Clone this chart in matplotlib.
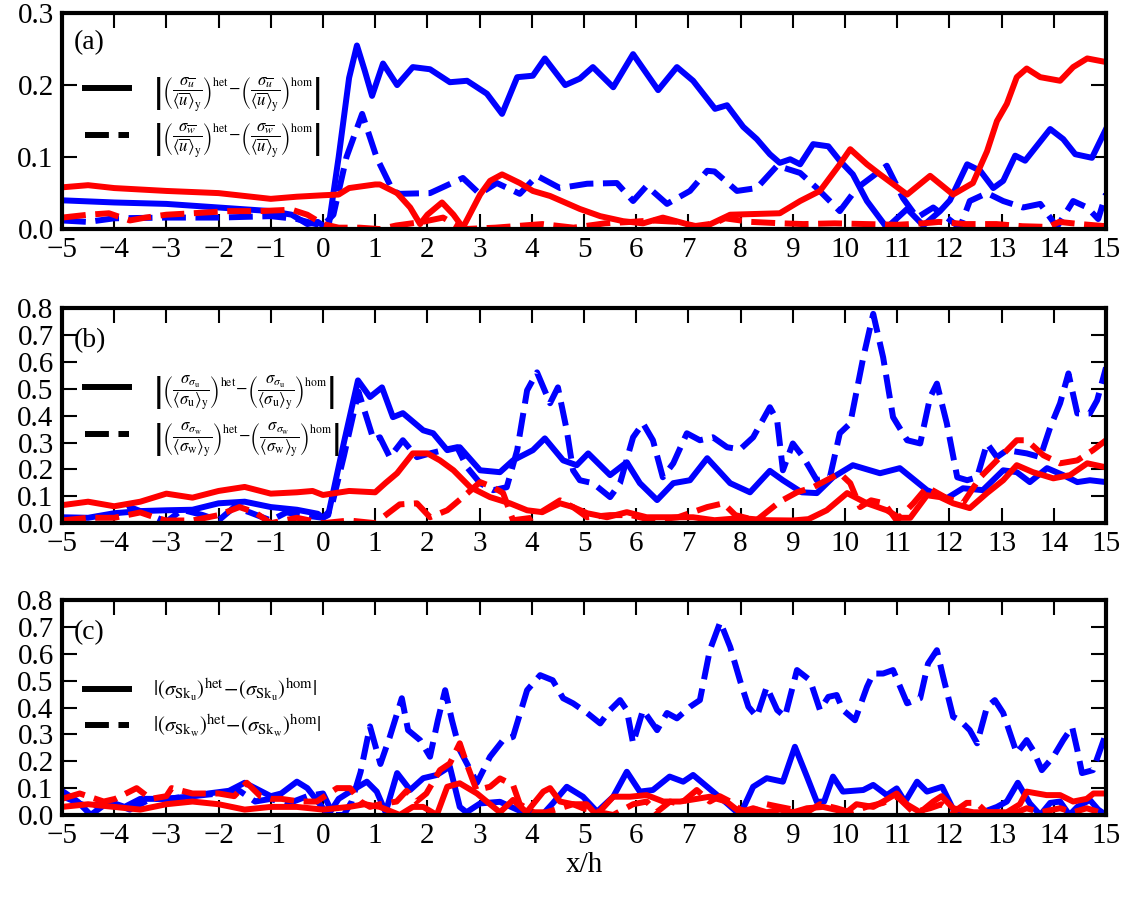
import matplotlib
matplotlib.use("Agg")
import matplotlib.pyplot as plt
import numpy as np

plt.rcParams['font.family'] = ['Liberation Serif', 'DejaVu Serif']
plt.rcParams['mathtext.fontset'] = 'stix'

# ---------------- panel (a): mean-normalised std of u and w ----------------
a_bs_x = [-5, -4, -3, -2, -1, -0.6, -0.3, -0.1, 0.1, 0.3, 0.5, 0.65, 0.8, 0.94, 1.15, 1.42, 1.72, 2.05, 2.43, 2.76,
          3.14, 3.43, 3.72, 4.02, 4.25, 4.64, 4.92, 5.17, 5.56, 5.94, 6.42, 6.78, 7.09, 7.51, 7.74, 8.05, 8.31, 8.56, 8.75, 8.95,
          9.14, 9.39, 9.68, 9.9, 10.15, 10.42, 10.8, 11.19, 11.5, 11.82, 12.01, 12.34, 12.59, 12.84, 13.03, 13.26, 13.45, 13.93, 14.18, 14.41,
          14.73, 15.0]
a_bs_y = [0.040, 0.037, 0.035, 0.030, 0.025, 0.020, 0.007, 0.010, 0.0, 0.10, 0.21, 0.255, 0.22, 0.185, 0.23, 0.20, 0.225, 0.222, 0.204, 0.206,
          0.188, 0.16, 0.211, 0.213, 0.237, 0.20, 0.209, 0.225, 0.197, 0.243, 0.193, 0.225, 0.206, 0.167, 0.172, 0.142, 0.125, 0.104, 0.092, 0.097,
          0.09, 0.118, 0.115, 0.095, 0.076, 0.039, 0.002, 0.028, 0.005, 0.025, 0.04, 0.09, 0.081, 0.057, 0.067, 0.102, 0.095, 0.139, 0.125, 0.104,
          0.099, 0.139]

a_bd_x = [-5, -4.5, -4, -3, -2, -1, -0.5, -0.2, 0.0, 0.2, 0.45, 0.75, 1.03, 1.34, 1.47, 2.05, 2.68, 3.0, 3.33, 3.77,
          4.1, 4.54, 5.06, 5.63, 5.94, 6.2, 6.59, 7.03, 7.36, 7.5, 7.93, 8.31, 8.7, 9.14, 9.46, 9.9, 10.23, 10.8, 11.11, 11.38,
          11.69, 11.95, 12.2, 12.39, 12.72, 13.03, 13.41, 13.74, 14.06, 14.37, 14.64, 14.85, 15.0]
a_bd_y = [0.012, 0.010, 0.015, 0.016, 0.016, 0.018, 0.014, 0.008, 0.005, 0.02, 0.10, 0.16, 0.099, 0.053, 0.049, 0.05, 0.071, 0.049, 0.064, 0.049,
          0.074, 0.057, 0.063, 0.064, 0.039, 0.06, 0.035, 0.053, 0.081, 0.08, 0.053, 0.057, 0.088, 0.078, 0.057, 0.025, 0.057, 0.088, 0.043, 0.016,
          0.03, 0.016, 0.002, 0.039, 0.05, 0.039, 0.03, 0.035, 0.003, 0.039, 0.03, 0.014, 0.049]

a_rs_x = [-5, -4.5, -4, -3, -2, -1.5, -1, -0.5, 0, 0.3, 0.5, 1.0, 1.09, 1.42, 1.67, 1.86, 2.0, 2.28, 2.5, 2.68,
          3.01, 3.2, 3.43, 3.77, 4.02, 4.35, 4.92, 5.31, 5.75, 6.13, 6.51, 6.97, 7.28, 7.8, 8.75, 9.14, 9.52, 9.9, 10.1, 10.42,
          10.67, 11.19, 11.63, 12.07, 12.45, 12.72, 12.91, 13.1, 13.29, 13.48, 13.74, 14.12, 14.37, 14.64, 15.0]
a_rs_y = [0.058, 0.061, 0.057, 0.053, 0.050, 0.046, 0.042, 0.045, 0.047, 0.048, 0.057, 0.062, 0.062, 0.05, 0.03, 0.007, 0.02, 0.037, 0.02, 0.002,
          0.048, 0.067, 0.076, 0.064, 0.053, 0.046, 0.028, 0.018, 0.011, 0.008, 0.016, 0.007, 0.002, 0.02, 0.022, 0.039, 0.053, 0.09, 0.111, 0.09,
          0.076, 0.048, 0.074, 0.048, 0.064, 0.108, 0.15, 0.174, 0.211, 0.223, 0.211, 0.206, 0.225, 0.237, 0.232]

a_rd_x = [-5, -4.5, -4.1, -3.7, -3.4, -3.0, -2.5, -1.8, -1.2, -0.6, -0.3, 0.0, 0.3, 0.7, 1.1, 1.4, 1.9, 2.3, 2.68, 3.3,
          4.2, 4.8, 5.4, 5.9, 6.3, 6.8, 7.1, 7.5, 7.7, 8.2, 8.8, 9.2, 9.8, 10.4, 11.0, 11.5, 11.8, 12.3, 12.9, 13.4,
          13.9, 14.1, 14.5, 15.0]
a_rd_y = [0.016, 0.02, 0.022, 0.012, 0.016, 0.02, 0.022, 0.025, 0.025, 0.027, 0.02, 0.007, 0.002, 0.002, 0.0, 0.005, 0.01, 0.016, 0.0, 0.002,
          0.007, 0.002, 0.008, 0.01, 0.012, 0.01, 0.004, 0.008, 0.015, 0.01, 0.008, 0.007, 0.008, 0.007, 0.006, 0.008, 0.01, 0.007, 0.007, 0.004,
          0.003, 0.01, 0.007, 0.004]

# ---------------- panel (b): std of the std ----------------
b_bs_x = [-5, -4.5, -4, -3.5, -3, -2.5, -2, -1.5, -1, -0.5, -0.1, 0.0, 0.1, 0.4, 0.67, 0.9, 1.13, 1.34, 1.53, 1.92,
          2.11, 2.38, 2.62, 3.01, 3.39, 3.64, 4.02, 4.25, 4.6, 4.86, 5.08, 5.5, 5.82, 6.07, 6.4, 6.71, 7.03, 7.36, 7.8, 8.18,
          8.56, 8.81, 9.17, 9.46, 9.77, 10.15, 10.67, 11.05, 11.57, 11.95, 12.26, 12.64, 13.03, 13.29, 13.54, 13.87, 14.18, 14.45, 14.69, 15.0]
b_bs_y = [0.022, 0.02, 0.037, 0.045, 0.048, 0.05, 0.074, 0.08, 0.06, 0.05, 0.035, 0.02, 0.03, 0.3, 0.532, 0.47, 0.506, 0.395, 0.41, 0.346,
          0.335, 0.272, 0.283, 0.197, 0.19, 0.234, 0.272, 0.316, 0.234, 0.216, 0.26, 0.179, 0.227, 0.149, 0.086, 0.149, 0.16, 0.242, 0.149, 0.115,
          0.195, 0.16, 0.115, 0.112, 0.171, 0.216, 0.186, 0.205, 0.123, 0.093, 0.13, 0.123, 0.197, 0.19, 0.153, 0.205, 0.179, 0.153, 0.16, 0.153]

b_bd_x = [-5, -4.5, -4, -3.7, -3.3, -3.0, -2.7, -2.3, -2.0, -1.7, -1.4, -1.0, -0.7, -0.4, 0.0, 0.15, 0.4, 0.68, 0.97, 1.09,
          1.28, 1.53, 1.8, 2.05, 2.3, 2.57, 2.76, 3.01, 3.26, 3.52, 3.72, 3.91, 4.1, 4.35, 4.5, 4.67, 4.79, 4.92, 5.17, 5.5,
          5.69, 5.94, 6.13, 6.32, 6.51, 6.71, 6.97, 7.22, 7.47, 7.74, 7.99, 8.24, 8.56, 8.7, 8.81, 9.0, 9.2, 9.46, 9.71, 9.9,
          10.1, 10.35, 10.54, 10.73, 10.92, 11.19, 11.44, 11.63, 11.76, 11.95, 12.15, 12.34, 12.53, 12.72, 12.91, 13.1, 13.48, 13.74, 13.93, 14.12,
          14.28, 14.45, 14.69, 14.83, 15.0]
b_bd_y = [0.01, 0.02, 0.03, 0.06, 0.03, 0.005, 0.05, 0.03, 0.01, 0.06, 0.04, 0.01, 0.04, 0.03, 0.02, 0.05, 0.25, 0.49, 0.31, 0.32,
          0.246, 0.309, 0.246, 0.26, 0.272, 0.283, 0.208, 0.149, 0.123, 0.134, 0.272, 0.495, 0.562, 0.447, 0.506, 0.346, 0.197, 0.16, 0.149, 0.097,
          0.149, 0.32, 0.372, 0.309, 0.171, 0.223, 0.335, 0.309, 0.32, 0.283, 0.275, 0.32, 0.432, 0.383, 0.197, 0.297, 0.246, 0.16, 0.171, 0.335,
          0.372, 0.618, 0.78, 0.618, 0.395, 0.309, 0.297, 0.469, 0.52, 0.372, 0.171, 0.16, 0.171, 0.297, 0.246, 0.272, 0.26, 0.246, 0.357, 0.447,
          0.558, 0.409, 0.409, 0.458, 0.58]

b_rs_x = [-5, -4.5, -4, -3.5, -3, -2.5, -2, -1.5, -1, -0.5, -0.2, 0.0, 0.5, 1.0, 1.2, 1.42, 1.72, 2.0, 2.24, 2.5,
          2.82, 3.2, 3.58, 3.91, 4.2, 4.54, 4.79, 5.06, 5.44, 5.82, 6.2, 6.64, 7.09, 7.5, 8.0, 8.5, 9.0, 9.3, 9.65, 10.04,
          10.42, 10.8, 11.05, 11.25, 11.57, 11.82, 12.07, 12.39, 12.72, 13.03, 13.29, 13.6, 13.99, 14.31, 14.64, 15.0]
b_rs_y = [0.067, 0.08, 0.063, 0.08, 0.11, 0.095, 0.12, 0.135, 0.11, 0.115, 0.12, 0.105, 0.12, 0.115, 0.15, 0.186, 0.26, 0.26, 0.234, 0.197,
          0.134, 0.097, 0.074, 0.048, 0.041, 0.074, 0.06, 0.037, 0.022, 0.041, 0.022, 0.022, 0.022, 0.011, 0.019, 0.011, 0.01, 0.015, 0.048, 0.112,
          0.074, 0.048, 0.02, 0.02, 0.104, 0.097, 0.074, 0.056, 0.112, 0.16, 0.216, 0.19, 0.167, 0.179, 0.223, 0.208]

b_rd_x = [-5, -4.5, -4, -3.5, -3.2, -3.0, -2.5, -2.0, -1.6, -1.3, -1.0, -0.5, 0.0, 0.5, 1.0, 1.2, 1.47, 1.8, 2.05, 2.38,
          2.68, 3.01, 3.26, 3.45, 3.64, 4.0, 4.54, 4.79, 5.06, 5.5, 5.9, 6.3, 6.8, 7.36, 7.67, 7.9, 8.3, 8.75, 9.08, 9.39,
          9.9, 10.1, 10.29, 10.5, 10.75, 10.99, 11.31, 11.57, 11.95, 12.26, 12.59, 12.91, 13.29, 13.48, 13.8, 14.12, 14.45, 14.75, 15.0]
b_rd_y = [0.01, 0.02, 0.02, 0.04, 0.02, 0.01, 0.01, 0.03, 0.06, 0.04, 0.0, 0.02, 0.0, 0.01, 0.0, 0.03, 0.07, 0.074, 0.022, 0.048,
          0.097, 0.153, 0.134, 0.112, 0.011, 0.02, 0.085, 0.06, 0.022, 0.03, 0.03, 0.011, 0.022, 0.06, 0.074, 0.03, 0.01, 0.08, 0.115, 0.134,
          0.186, 0.149, 0.06, 0.085, 0.074, 0.01, 0.074, 0.134, 0.093, 0.074, 0.171, 0.234, 0.309, 0.309, 0.253, 0.223, 0.234, 0.272, 0.309]

# ---------------- panel (c): std of skewness ----------------
c_bs_x = [-5, -4.7, -4.45, -4.1, -3.8, -3.5, -3.0, -2.5, -2.2, -1.8, -1.5, -1.3, -1.0, -0.8, -0.5, -0.3, -0.1, 0.1, 0.3, 0.52,
          0.84, 1.03, 1.2, 1.42, 1.67, 1.92, 2.18, 2.43, 2.62, 2.75, 3.01, 3.39, 3.83, 4.2, 4.4, 4.67, 4.98, 5.25, 5.56, 5.82,
          6.07, 6.32, 6.64, 6.9, 7.09, 7.47, 7.74, 7.99, 8.24, 8.5, 8.81, 9.04, 9.27, 9.46, 9.6, 9.77, 9.96, 10.35, 10.54, 10.8,
          10.99, 11.15, 11.38, 11.57, 11.86, 12.1, 12.5, 12.91, 13.1, 13.31, 13.54, 13.74, 13.93, 14.12, 14.3, 14.45, 14.69, 14.85, 15.0]
c_bs_y = [0.09, 0.05, 0.0, 0.05, 0.03, 0.06, 0.06, 0.07, 0.08, 0.09, 0.12, 0.1, 0.07, 0.08, 0.124, 0.1, 0.05, 0.0, 0.06, 0.087,
          0.124, 0.087, 0.01, 0.156, 0.093, 0.137, 0.149, 0.18, 0.03, 0.01, 0.043, 0.049, 0.01, 0.0, 0.043, 0.105, 0.068, 0.012, 0.068, 0.161,
          0.087, 0.093, 0.143, 0.124, 0.149, 0.087, 0.043, 0.0, 0.105, 0.137, 0.124, 0.254, 0.143, 0.049, 0.05, 0.143, 0.087, 0.093, 0.112, 0.074,
          0.099, 0.049, 0.124, 0.087, 0.105, 0.01, 0.0, 0.03, 0.05, 0.12, 0.043, 0.0, 0.045, 0.05, 0.0, 0.03, 0.056, 0.02, 0.0]

c_bd_x = [-5, -4.5, -4.1, -3.7, -3.3, -3.0, -2.5, -2.0, -1.6, -1.3, -1.0, -0.7, -0.3, 0.0, 0.2, 0.4, 0.55, 0.72, 0.9, 1.1,
          1.28, 1.51, 1.63, 1.86, 2.05, 2.2, 2.34, 2.47, 2.62, 2.95, 3.2, 3.45, 3.64, 3.91, 4.16, 4.4, 4.6, 4.79, 5.06, 5.31,
          5.5, 5.69, 5.82, 5.94, 6.13, 6.4, 6.59, 6.78, 7.03, 7.22, 7.41, 7.61, 7.8, 7.99, 8.15, 8.31, 8.5, 8.7, 8.85, 9.08,
          9.33, 9.52, 9.68, 9.84, 9.96, 10.19, 10.42, 10.54, 10.73, 10.92, 11.19, 11.44, 11.59, 11.76, 11.88, 12.07, 12.2, 12.39, 12.53, 12.72,
          12.87, 13.03, 13.29, 13.48, 13.6, 13.77, 13.99, 14.18, 14.35, 14.45, 14.54, 14.75, 15.0]
c_bd_y = [0.07, 0.03, 0.05, 0.02, 0.06, 0.06, 0.07, 0.08, 0.09, 0.05, 0.06, 0.04, 0.07, 0.08, 0.0, 0.0, 0.05, 0.16, 0.33, 0.19,
          0.291, 0.435, 0.316, 0.279, 0.217, 0.353, 0.465, 0.353, 0.242, 0.12, 0.217, 0.279, 0.291, 0.465, 0.521, 0.502, 0.435, 0.416, 0.38, 0.341,
          0.391, 0.428, 0.391, 0.267, 0.391, 0.316, 0.38, 0.36, 0.403, 0.428, 0.614, 0.719, 0.626, 0.5, 0.403, 0.366, 0.477, 0.391, 0.366, 0.54,
          0.502, 0.391, 0.44, 0.447, 0.391, 0.353, 0.477, 0.527, 0.527, 0.54, 0.416, 0.435, 0.564, 0.614, 0.515, 0.366, 0.353, 0.316, 0.267, 0.403,
          0.428, 0.38, 0.23, 0.279, 0.242, 0.167, 0.217, 0.279, 0.328, 0.242, 0.156, 0.167, 0.304]

c_rs_x = [-5, -4.5, -4.0, -3.5, -3.0, -2.5, -2.0, -1.5, -1.0, -0.5, 0.0, 0.5, 0.8, 1.09, 1.47, 1.72, 1.92, 2.18, 2.38, 2.62,
          2.95, 3.2, 3.39, 3.64, 3.9, 4.22, 4.35, 4.54, 4.79, 5.05, 5.24, 5.56, 5.88, 6.2, 6.52, 6.84, 7.16, 7.41, 7.73, 7.99,
          8.24, 8.5, 8.75, 9.01, 9.27, 9.58, 10.03, 10.22, 10.54, 10.73, 10.99, 11.18, 11.44, 11.69, 11.85, 12.07, 12.46, 12.84, 13.1, 13.35,
          13.48, 13.86, 14.12, 14.37, 14.63, 14.76, 15.0]
c_rs_y = [0.03, 0.04, 0.03, 0.02, 0.04, 0.05, 0.04, 0.02, 0.03, 0.03, 0.02, 0.03, 0.04, 0.03, 0.0, 0.03, 0.03, 0.0, 0.105, 0.118,
          0.08, 0.04, 0.01, 0.056, 0.01, 0.087, 0.1, 0.05, 0.04, 0.04, 0.0, 0.068, 0.068, 0.074, 0.05, 0.05, 0.06, 0.068, 0.05, 0.01,
          0.025, 0.01, 0.02, 0.01, 0.025, 0.03, 0.01, 0.04, 0.03, 0.05, 0.08, 0.04, 0.01, 0.05, 0.07, 0.025, 0.01, 0.01, 0.01, 0.04,
          0.087, 0.074, 0.074, 0.05, 0.06, 0.08, 0.08]

c_rd_x = [-5, -4.66, -4.2, -3.98, -3.57, -3.3, -3.0, -2.9, -2.5, -2.0, -1.7, -1.46, -1.2, -1.0, -0.8, -0.44, -0.12, 0.27, 0.52, 0.72,
          0.9, 1.09, 1.41, 1.6, 1.79, 1.98, 2.24, 2.43, 2.62, 2.75, 2.94, 3.2, 3.39, 3.64, 3.77, 4.03, 4.28, 4.54, 4.79, 4.98,
          5.3, 5.56, 5.94, 6.2, 6.39, 6.65, 6.84, 7.16, 7.41, 7.6, 7.8, 7.99, 8.24, 8.5, 8.75, 9.01, 9.27, 9.52, 9.84, 10.1,
          10.41, 10.73, 10.99, 11.31, 11.63, 11.85, 12.07, 12.33, 12.52, 12.71, 13.1, 13.29, 13.48, 13.74, 14.12, 14.37, 14.63, 14.88, 15.0]
c_rd_y = [0.06, 0.08, 0.05, 0.06, 0.1, 0.06, 0.07, 0.1, 0.08, 0.08, 0.07, 0.12, 0.07, 0.06, 0.06, 0.05, 0.05, 0.1, 0.1, 0.05,
          0.03, 0.04, 0.05, 0.09, 0.05, 0.08, 0.167, 0.192, 0.267, 0.192, 0.093, 0.105, 0.136, 0.112, 0.04, 0.01, 0.01, 0.025, 0.04, 0.025,
          0.01, 0.0, 0.04, 0.05, 0.01, 0.05, 0.04, 0.093, 0.05, 0.07, 0.05, 0.02, 0.01, 0.04, 0.03, 0.02, 0.01, 0.04, 0.025, 0.01,
          0.03, 0.045, 0.07, 0.01, 0.025, 0.04, 0.01, 0.045, 0.045, 0.01, 0.01, 0.01, 0.025, 0.01, 0.025, 0.01, 0.025, 0.01, 0.005]

x_ticks = list(range(-5, 16))
a_yticks = [0.0, 0.1, 0.2, 0.3]
bc_yticks = [0.0, 0.1, 0.2, 0.3, 0.4, 0.5, 0.6, 0.7, 0.8]

panel_tags = ['(a)', '(b)', '(c)']
legend_labels = [
    [r'$\left|\left(\dfrac{\sigma_{\overline{u}}}{\langle\overline{u}\rangle_{\mathrm{y}}}\right)^{\mathrm{het}}'
     r'\!-\!\left(\dfrac{\sigma_{\overline{u}}}{\langle\overline{u}\rangle_{\mathrm{y}}}\right)^{\mathrm{hom}}\right|$',
     r'$\left|\left(\dfrac{\sigma_{\overline{w}}}{\langle\overline{u}\rangle_{\mathrm{y}}}\right)^{\mathrm{het}}'
     r'\!-\!\left(\dfrac{\sigma_{\overline{w}}}{\langle\overline{u}\rangle_{\mathrm{y}}}\right)^{\mathrm{hom}}\right|$'],
    [r'$\left|\left(\dfrac{\sigma_{\sigma_{\mathrm{u}}}}{\langle\sigma_{\mathrm{u}}\rangle_{\mathrm{y}}}\right)^{\mathrm{het}}'
     r'\!-\!\left(\dfrac{\sigma_{\sigma_{\mathrm{u}}}}{\langle\sigma_{\mathrm{u}}\rangle_{\mathrm{y}}}\right)^{\mathrm{hom}}\right|$',
     r'$\left|\left(\dfrac{\sigma_{\sigma_{\mathrm{w}}}}{\langle\sigma_{\mathrm{w}}\rangle_{\mathrm{y}}}\right)^{\mathrm{het}}'
     r'\!-\!\left(\dfrac{\sigma_{\sigma_{\mathrm{w}}}}{\langle\sigma_{\mathrm{w}}\rangle_{\mathrm{y}}}\right)^{\mathrm{hom}}\right|$'],
    [r'$|(\sigma_{\mathrm{Sk_u}})^{\mathrm{het}}\!-\!(\sigma_{\mathrm{Sk_u}})^{\mathrm{hom}}|$',
     r'$|(\sigma_{\mathrm{Sk_w}})^{\mathrm{het}}\!-\!(\sigma_{\mathrm{Sk_w}})^{\mathrm{hom}}|$'],
]
legend_sizes = [12, 12, 15]

series = [
    (a_bs_x, a_bs_y, a_bd_x, a_bd_y, a_rs_x, a_rs_y, a_rd_x, a_rd_y),
    (b_bs_x, b_bs_y, b_bd_x, b_bd_y, b_rs_x, b_rs_y, b_rd_x, b_rd_y),
    (c_bs_x, c_bs_y, c_bd_x, c_bd_y, c_rs_x, c_rs_y, c_rd_x, c_rd_y),
]

fig = plt.figure(figsize=(11.33, 9.02), dpi=100)
left, width = 0.0547, 0.9215
boxes = [(left, 0.746, width, 0.2395), (left, 0.420, width, 0.238), (left, 0.0965, width, 0.238)]
ylims = [0.3, 0.8, 0.8]
leg_y = [0.515, 0.50, 0.50]
leg_space = [0.5, 0.5, 0.45]

LW = 4.3
DASH = (4, 1.6)

for i, ax_box in enumerate(boxes):
    ax = fig.add_axes(ax_box)
    bsx, bsy, bdx, bdy, rsx, rsy, rdx, rdy = series[i]
    ax.plot(bsx, bsy, color='#0000ff', lw=LW, solid_joinstyle='round')
    ax.plot(bdx, bdy, color='#0000ff', lw=LW, dashes=DASH)
    ax.plot(rsx, rsy, color='#ff0000', lw=LW, solid_joinstyle='round')
    ax.plot(rdx, rdy, color='#ff0000', lw=LW, dashes=DASH)

    ax.set_xlim(-5, 15)
    ax.set_ylim(0, ylims[i])
    ax.set_xticks(x_ticks)
    ax.set_yticks(a_yticks if i == 0 else bc_yticks)
    ax.yaxis.set_major_formatter(matplotlib.ticker.FormatStrFormatter('%.1f'))
    ax.tick_params(direction='in', top=True, right=True, length=11, width=1.5,
                   labelsize=21, pad=6)
    for sp in ax.spines.values():
        sp.set_linewidth(3.0)

    ax.text(0.011, 0.865 if i == 0 else 0.851, panel_tags[i], transform=ax.transAxes,
            fontsize=20, ha='left', va='center')

    h1, = ax.plot([], [], color='black', lw=LW)
    h2, = ax.plot([], [], color='black', lw=LW, dashes=DASH)
    fs = legend_sizes[i]
    ax.legend([h1, h2], legend_labels[i], loc='center left', bbox_to_anchor=(0.022, leg_y[i]),
              frameon=False, fontsize=fs, handlelength=32.0 / fs, handletextpad=17.0 / fs,
              borderpad=0, borderaxespad=0, labelspacing=leg_space[i])

    if i == 2:
        ax.set_xlabel('x/h', fontsize=21, labelpad=2)

fig.savefig('out.png', dpi=100)
